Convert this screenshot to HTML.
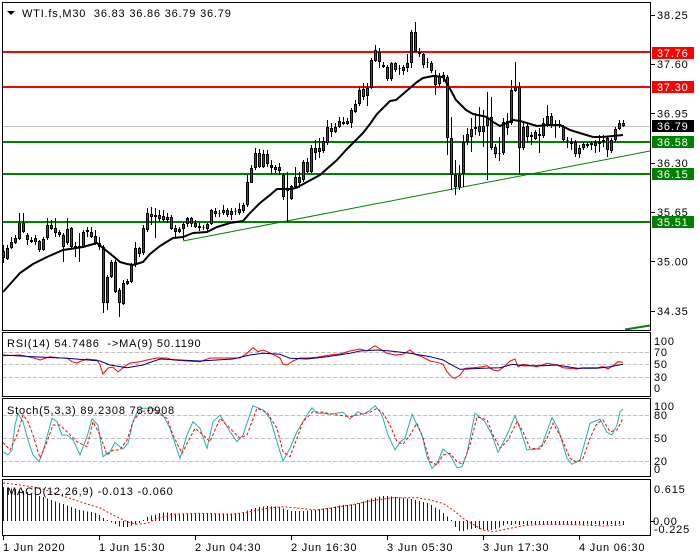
<!DOCTYPE html>
<html><head><meta charset="utf-8"><style>
html,body{margin:0;padding:0;background:#fff;}
svg{display:block;}
text{font-family:"Liberation Sans",sans-serif;font-size:11px;letter-spacing:0.8px;fill:#000;white-space:pre;}
.w{fill:#fff;}
</style></head><body>
<svg width="700" height="560" viewBox="0 0 700 560" xmlns="http://www.w3.org/2000/svg">
<rect width="700" height="560" fill="#fff"/>

<!-- dashed level lines in indicator panels -->
<g stroke="#c0c0c0" stroke-width="1" stroke-dasharray="4 2" shape-rendering="crispEdges">
<line x1="3" y1="352.5" x2="650" y2="352.5"/>
<line x1="3" y1="364.5" x2="650" y2="364.5"/>
<line x1="3" y1="377.5" x2="650" y2="377.5"/>
<line x1="3" y1="415.5" x2="650" y2="415.5"/>
<line x1="3" y1="438.5" x2="650" y2="438.5"/>
<line x1="3" y1="461.5" x2="650" y2="461.5"/>
</g>

<!-- main horizontal levels -->
<line x1="3" y1="126.5" x2="650" y2="126.5" stroke="#c0c0c0" stroke-width="1" shape-rendering="crispEdges"/>
<g stroke-width="2" shape-rendering="crispEdges">
<line x1="3" y1="52" x2="650" y2="52" stroke="#ff0000"/>
<line x1="3" y1="87" x2="650" y2="87" stroke="#ff0000"/>
<line x1="3" y1="142" x2="650" y2="142" stroke="#008000"/>
<line x1="3" y1="174" x2="650" y2="174" stroke="#008000"/>
<line x1="3" y1="222" x2="650" y2="222" stroke="#008000"/>
</g>
<!-- trendline -->
<line x1="183" y1="241" x2="650" y2="151" stroke="#008000" stroke-width="1"/>
<line x1="625" y1="329.5" x2="650" y2="325.5" stroke="#008000" stroke-width="2"/>

<!-- candle wicks -->
<path fill="none" stroke="#000" stroke-width="1" shape-rendering="crispEdges" d="M3.5 245V263M7.5 245V260M11.5 237V249M15.5 235V244M19.5 213V240M23.5 213V233M27.5 233V245M31.5 237V243M35.5 235V245M39.5 240V252M43.5 237V251M47.5 218V240M51.5 220V230M55.5 218V237M59.5 230V237M63.5 233V262M67.5 218V245M71.5 227V248M75.5 242V257M79.5 233V262M83.5 230V248M87.5 227V237M91.5 227V238M95.5 230V245M99.5 237V250M103.5 245V313M107.5 275V310M111.5 260V278M115.5 260V293M119.5 288V317M123.5 280V305M127.5 279V285M131.5 263V283M135.5 242V267M139.5 247V257M143.5 225V255M147.5 208V232M151.5 207V225M155.5 208V238M159.5 210V222M163.5 210V222M167.5 213V223M171.5 215V230M175.5 225V237M179.5 227V233M183.5 222V240M187.5 217V227M191.5 217V227M195.5 220V228M199.5 223V231M203.5 225V230M207.5 223V231M211.5 209V225M215.5 208V217M219.5 210V217M223.5 205V215M227.5 208V217M231.5 208V220M235.5 208V215M239.5 203V215M243.5 203V213M247.5 175V207M251.5 165V183M255.5 148V170M259.5 149V168M263.5 150V168M267.5 150V167M271.5 160V175M275.5 165V173M279.5 163V175M283.5 173V200M287.5 172V222M291.5 185V200M295.5 167V188M299.5 172V188M303.5 160V182M307.5 158V173M311.5 145V173M315.5 140V160M319.5 138V158M323.5 137V153M327.5 120V145M331.5 123V137M335.5 123V133M339.5 117V128M343.5 117V125M347.5 118V125M351.5 108V128M355.5 100V113M359.5 87V106M363.5 83V100M367.5 83V106M371.5 58V89M375.5 45V62M379.5 48V68M383.5 62V68M387.5 65V81M391.5 62V81M395.5 62V72M399.5 65V75M403.5 65V75M407.5 54V72M411.5 30V68M415.5 22V52M419.5 48V57M423.5 53V68M427.5 58V68M431.5 61V73M435.5 70V95M439.5 73V87M443.5 72V82M447.5 75V155M451.5 117V190M455.5 160V195M459.5 165V190M463.5 135V187M467.5 128V145M471.5 118V152M475.5 113V135M479.5 107V136M483.5 110V147M487.5 92V180M491.5 97V150M495.5 144V158M499.5 137V161M503.5 118V155M507.5 113V135M511.5 80V125M515.5 62V92M519.5 82V175M523.5 122V150M527.5 122V143M531.5 132V145M535.5 130V140M539.5 128V153M543.5 118V138M547.5 105V127M551.5 113V128M555.5 120V138M559.5 120V128M563.5 125V142M567.5 137V148M571.5 138V150M575.5 140V157M579.5 145V158M583.5 142V150M587.5 142V148M591.5 141V150M595.5 140V153M599.5 135V152M603.5 135V147M607.5 137V157M611.5 138V153M615.5 127V142M619.5 120V130M623.5 120V127"/>

<!-- green bodies -->
<path fill="#008000" stroke="#000" stroke-width="1" shape-rendering="crispEdges" d="M6.5 248.5h2V258.5h-2zM10.5 242.5h2V247.5h-2zM14.5 238.5h2V242.5h-2zM18.5 223.5h2V238.5h-2zM34.5 238.5h2V241.5h-2zM42.5 239.5h2V249.5h-2zM46.5 225.5h2V237.5h-2zM66.5 229.5h2V242.5h-2zM78.5 246.5h2V247.5h-2zM82.5 232.5h2V246.5h-2zM106.5 277.5h2V302.5h-2zM110.5 262.5h2V276.5h-2zM122.5 283.5h2V303.5h-2zM126.5 281.5h2V283.5h-2zM130.5 265.5h2V281.5h-2zM134.5 248.5h2V264.5h-2zM142.5 228.5h2V252.5h-2zM146.5 213.5h2V229.5h-2zM150.5 214.5h2V216.5h-2zM154.5 215.5h2V216.5h-2zM166.5 217.5h2V219.5h-2zM182.5 224.5h2V228.5h-2zM186.5 218.5h2V223.5h-2zM202.5 227.5h2V227.5h-2zM206.5 224.5h2V228.5h-2zM210.5 210.5h2V223.5h-2zM218.5 213.5h2V213.5h-2zM222.5 210.5h2V212.5h-2zM230.5 211.5h2V214.5h-2zM234.5 211.5h2V211.5h-2zM238.5 209.5h2V212.5h-2zM242.5 205.5h2V210.5h-2zM246.5 182.5h2V204.5h-2zM250.5 168.5h2V182.5h-2zM254.5 153.5h2V167.5h-2zM262.5 154.5h2V166.5h-2zM286.5 189.5h2V190.5h-2zM290.5 186.5h2V198.5h-2zM294.5 177.5h2V186.5h-2zM298.5 177.5h2V182.5h-2zM302.5 162.5h2V179.5h-2zM310.5 148.5h2V171.5h-2zM318.5 148.5h2V151.5h-2zM322.5 141.5h2V150.5h-2zM326.5 127.5h2V142.5h-2zM334.5 127.5h2V131.5h-2zM338.5 121.5h2V126.5h-2zM342.5 122.5h2V123.5h-2zM346.5 121.5h2V123.5h-2zM350.5 110.5h2V122.5h-2zM354.5 104.5h2V111.5h-2zM358.5 90.5h2V103.5h-2zM370.5 60.5h2V87.5h-2zM374.5 50.5h2V60.5h-2zM382.5 65.5h2V66.5h-2zM390.5 63.5h2V78.5h-2zM398.5 68.5h2V68.5h-2zM402.5 67.5h2V70.5h-2zM406.5 63.5h2V67.5h-2zM410.5 32.5h2V62.5h-2zM438.5 76.5h2V83.5h-2zM458.5 175.5h2V186.5h-2zM462.5 142.5h2V173.5h-2zM466.5 134.5h2V141.5h-2zM470.5 129.5h2V136.5h-2zM474.5 127.5h2V128.5h-2zM486.5 118.5h2V125.5h-2zM502.5 122.5h2V152.5h-2zM506.5 121.5h2V127.5h-2zM510.5 90.5h2V122.5h-2zM514.5 87.5h2V90.5h-2zM522.5 127.5h2V147.5h-2zM538.5 134.5h2V135.5h-2zM542.5 123.5h2V135.5h-2zM546.5 116.5h2V123.5h-2zM554.5 124.5h2V125.5h-2zM558.5 124.5h2V125.5h-2zM566.5 140.5h2V140.5h-2zM570.5 142.5h2V143.5h-2zM578.5 148.5h2V153.5h-2zM582.5 144.5h2V147.5h-2zM586.5 144.5h2V145.5h-2zM590.5 143.5h2V144.5h-2zM594.5 142.5h2V145.5h-2zM598.5 142.5h2V143.5h-2zM602.5 140.5h2V141.5h-2zM610.5 140.5h2V150.5h-2zM614.5 129.5h2V139.5h-2zM618.5 123.5h2V128.5h-2z"/>

<!-- red bodies -->
<path fill="#ff0000" stroke="#000" stroke-width="1" shape-rendering="crispEdges" d="M2.5 251.5h2V257.5h-2zM22.5 223.5h2V231.5h-2zM26.5 235.5h2V239.5h-2zM30.5 240.5h2V241.5h-2zM38.5 241.5h2V249.5h-2zM50.5 225.5h2V228.5h-2zM54.5 228.5h2V232.5h-2zM58.5 232.5h2V234.5h-2zM62.5 235.5h2V246.5h-2zM70.5 228.5h2V246.5h-2zM74.5 246.5h2V247.5h-2zM86.5 230.5h2V231.5h-2zM90.5 232.5h2V236.5h-2zM94.5 236.5h2V242.5h-2zM98.5 243.5h2V246.5h-2zM102.5 247.5h2V302.5h-2zM114.5 262.5h2V291.5h-2zM118.5 290.5h2V302.5h-2zM138.5 248.5h2V253.5h-2zM158.5 215.5h2V218.5h-2zM162.5 216.5h2V219.5h-2zM170.5 217.5h2V228.5h-2zM174.5 228.5h2V231.5h-2zM178.5 229.5h2V231.5h-2zM190.5 218.5h2V223.5h-2zM194.5 223.5h2V226.5h-2zM198.5 226.5h2V227.5h-2zM214.5 211.5h2V213.5h-2zM226.5 210.5h2V214.5h-2zM258.5 153.5h2V166.5h-2zM266.5 154.5h2V163.5h-2zM270.5 165.5h2V167.5h-2zM274.5 167.5h2V169.5h-2zM278.5 167.5h2V170.5h-2zM282.5 175.5h2V196.5h-2zM306.5 162.5h2V171.5h-2zM314.5 148.5h2V152.5h-2zM330.5 128.5h2V131.5h-2zM362.5 89.5h2V96.5h-2zM366.5 88.5h2V95.5h-2zM378.5 52.5h2V61.5h-2zM386.5 67.5h2V78.5h-2zM394.5 63.5h2V69.5h-2zM414.5 32.5h2V51.5h-2zM418.5 52.5h2V53.5h-2zM422.5 54.5h2V64.5h-2zM426.5 62.5h2V62.5h-2zM430.5 63.5h2V70.5h-2zM434.5 75.5h2V84.5h-2zM442.5 75.5h2V77.5h-2zM446.5 77.5h2V137.5h-2zM450.5 138.5h2V174.5h-2zM454.5 175.5h2V186.5h-2zM478.5 126.5h2V131.5h-2zM482.5 126.5h2V131.5h-2zM490.5 117.5h2V147.5h-2zM494.5 147.5h2V153.5h-2zM498.5 153.5h2V153.5h-2zM518.5 87.5h2V147.5h-2zM526.5 126.5h2V136.5h-2zM530.5 135.5h2V136.5h-2zM534.5 132.5h2V138.5h-2zM550.5 116.5h2V124.5h-2zM562.5 127.5h2V139.5h-2zM574.5 142.5h2V153.5h-2zM606.5 138.5h2V149.5h-2zM622.5 123.5h2V125.5h-2z"/>

<!-- moving average -->
<polyline fill="none" stroke="#000" stroke-width="2" stroke-linejoin="round" points="3,292 20,273 33,264 47,257 63,250 83,247 97,243 103,248 113,256 120,262 127,264 133,265 143,262 150,254 160,246 173,238 183,237 193,233 207,232 217,227 230,223 243,221 250,213 260,203 270,195 277,189 290,189 296,188 307,182 320,175 329,167 337,160 346,150 356,140 363,133 370,124 377,114 383,108 390,101 396,100 403,94 410,88 417,82 423,78 433,76 443,77 449,87 456,100 466,110 473,114 487,117 493,122 500,126 507,123 513,120 520,121 527,123 537,126 547,125 560,125 570,130 583,134 593,137 603,137 613,136 623,135"/>

<!-- RSI -->
<polyline fill="none" stroke="#ff0000" stroke-width="1" points="3,355.7 20,355 33,357.7 40,360 50,356.7 60,358 67,358 72,361.7 77,363 80,361.5 87,359 97,360 100,365 103,374 108,368 113,367 118,372 123,367.7 130,363 140,361.7 147,360 157,358 167,358 173,360 187,361 200,361.7 210,358 227,358 240,358 247,353.3 253,347.7 258,351.7 263,350 273,354.3 280,358 283,364 287,365 293,361 300,358 307,358 317,357.3 330,355 340,354 350,351 360,349 367,351 375,345.7 380,349 387,353.3 395,355 403,354.3 410,350 415,354.3 422,356.7 430,361 437,362.3 443,364.3 447,371.7 452,377.3 455,378.3 460,375 465,368.3 473,367.7 483,366.7 487,365.7 493,370 498,371 503,367.7 510,361 515,359 518,366.7 523,364.3 537,366.7 547,363.3 557,365 563,367.7 577,369 583,367.7 597,367.7 603,366.7 608,369 613,365.7 618,361.7 623,362.3"/>
<polyline fill="none" stroke="#000080" stroke-width="1" points="3,355 33,356.7 67,358.3 100,361 110,365 127,367.7 143,365 160,359 200,361 233,359 250,355 263,353.3 280,354.3 290,358.3 307,359 327,356.7 350,353.3 360,351 377,350 390,351 410,353.3 430,356.7 443,360 453,365.7 460,369.3 467,369 483,368.3 500,367.7 513,364.3 523,365.7 543,365.7 557,365 577,368.3 597,368.3 610,366.7 623,364.3"/>

<!-- Stochastic -->
<polyline fill="none" stroke="#20b2aa" stroke-width="1" points="3,451.7 8,455 12,450 15,425 18,413.3 23,421.7 28,440 33,455 39,461.7 43,451.7 52,418.3 57,421.7 62,435 67,435 73,440 80,455 87,436.7 92,419 98,425 103,456.7 110,451.7 115,442.3 120,446.7 123,449 128,443.3 133,421.7 138,410 143,408.3 153,408.3 163,415 170,428.3 180,458.3 187,435 193,421.7 200,428.3 207,448.3 213,421.7 220,415 230,431.7 237,441.7 243,435 253,405.7 263,410 270,418.3 280,451.7 283,461 290,448.3 297,431.7 307,415 312,407.7 317,413.3 323,413.3 330,414.3 343,412.3 350,419 358,411.7 363,414.3 368,411.7 375,405.7 380,411.7 383,418.3 388,435 395,450 400,442.3 405,438.3 412,414.3 417,425 422,435 427,456.7 432,468.3 438,461.7 443,449 450,455 457,467.7 462,466.7 467,453.3 475,413.3 485,421.7 492,435 498,452.3 507,435 515,415.7 520,428.3 527,450 537,449 542,445 552,417.7 558,428.3 567,458.3 572,464.3 580,460 590,423.3 600,419 607,432.3 612,435 617,425 620,411.7 623,409"/>
<polyline fill="none" stroke="#ff0000" stroke-width="1" stroke-dasharray="3 2" points="3,442.3 10,450 17,435 23,415 28,421.7 33,435 40,458.3 47,441.7 53,425 60,425 67,431.7 77,441.7 87,446.7 93,421.7 100,435 107,455 113,450 120,450 127,440 133,421.7 140,411.7 153,410 167,418.3 173,435 182,453.3 188,441.7 195,428.3 203,435 210,441.7 220,418.3 230,428.3 240,438.3 247,435 257,408.3 267,412.3 277,428.3 283,451.7 290,456.7 297,438.3 303,421.7 313,411.7 323,412.3 337,415 350,416.7 360,414.3 370,412.3 377,408.3 383,413.3 390,425 397,441.7 403,444.3 410,435 417,423.3 423,438.3 430,461.7 437,465 443,455 450,453.3 457,461.7 463,464.3 470,445 477,416.7 487,420 493,435 500,448.3 508,440 517,421.7 523,431.7 530,448.3 540,449 547,438.3 553,423.3 560,435 570,458.3 577,462.3 583,458.3 590,438.3 597,423.3 603,420 610,431.7 617,430 623,418.3"/>

<!-- MACD histogram -->
<path fill="none" stroke="#0000ff" stroke-width="1" shape-rendering="crispEdges" d="M3.5 521V487M7.5 521V487.7M11.5 521V488.4M15.5 521V489.1M19.5 521V490M23.5 521V491M27.5 521V492.2M31.5 521V493.4M35.5 521V494.6M39.5 521V496M43.5 521V497.2M47.5 521V498.6M51.5 521V500M55.5 521V501.4M59.5 521V503M63.5 521V504.2M67.5 521V505.6M71.5 521V507M75.5 521V508.4M79.5 521V510M83.5 521V510.6M87.5 521V511.3M91.5 521V512M95.5 521V512.8M99.5 521V515M103.5 521V518M107.5 521V520M111.5 521V522.5M115.5 521V524M119.5 521V526.4M123.5 521V526.8M127.5 521V527M131.5 521V525.5M135.5 521V524.4M139.5 521V523M143.5 521V520M147.5 521V517M151.5 521V515.6M155.5 521V514.4M159.5 521V513.2M163.5 521V512.7M167.5 521V512.3M171.5 521V513M175.5 521V513.5M179.5 521V514M183.5 521V513.5M187.5 521V514M191.5 521V513.5M195.5 521V514M199.5 521V514M203.5 521V514M207.5 521V513.5M211.5 521V513M215.5 521V513.5M219.5 521V513.5M223.5 521V513.5M227.5 521V513.5M231.5 521V513.5M235.5 521V513.2M239.5 521V513M243.5 521V512M247.5 521V510.5M251.5 521V508.8M255.5 521V508M259.5 521V507M263.5 521V506.3M267.5 521V506M271.5 521V506.3M275.5 521V506.6M279.5 521V507M283.5 521V508.5M287.5 521V510.2M291.5 521V511M295.5 521V511M299.5 521V511M303.5 521V510.8M307.5 521V510.5M311.5 521V510.1M315.5 521V509.8M319.5 521V509.2M323.5 521V508.6M327.5 521V508.2M331.5 521V507.4M335.5 521V506.4M339.5 521V505.4M343.5 521V505M347.5 521V504.8M351.5 521V504.4M355.5 521V504M359.5 521V502.8M363.5 521V501.6M367.5 521V500M371.5 521V498.7M375.5 521V497.4M379.5 521V496.6M383.5 521V496M387.5 521V496.2M391.5 521V496.6M395.5 521V497M399.5 521V497.4M403.5 521V497.8M407.5 521V498.4M411.5 521V499.2M415.5 521V499.8M419.5 521V500.8M423.5 521V502M427.5 521V503M431.5 521V505M435.5 521V507.4M439.5 521V509.7M443.5 521V513M447.5 521V516.5M451.5 521V520M455.5 521V527M459.5 521V531M463.5 521V531M467.5 521V529.5M471.5 521V528.8M475.5 521V528.2M479.5 521V528.8M483.5 521V529.6M487.5 521V530M491.5 521V530M495.5 521V529M499.5 521V527.5M503.5 521V525.5M507.5 521V524M511.5 521V525M515.5 521V524M519.5 521V525M523.5 521V524M527.5 521V525M531.5 521V524M535.5 521V525M539.5 521V524M543.5 521V525M547.5 521V524M551.5 521V525M555.5 521V524M559.5 521V525M563.5 521V524M567.5 521V525M571.5 521V524M575.5 521V525M579.5 521V524M583.5 521V525M587.5 521V524M591.5 521V525M595.5 521V524M599.5 521V525M603.5 521V524M607.5 521V525M611.5 521V524M615.5 521V525M619.5 521V524M623.5 521V525"/>
<polyline fill="none" stroke="#ff0000" stroke-width="1" stroke-dasharray="2 2" points="3,483 20,485 40,488 60,495 80,501.7 100,508 113,515 127,521.7 137,524.3 147,523.3 157,518.3 173,514.3 200,513.3 233,514.3 250,511.7 267,508.3 283,506.7 300,508.3 317,510 333,507.7 350,505 370,501 393,497.7 417,497.7 430,500 443,503.3 453,510 463,518.3 473,524.3 483,530 493,531.7 507,529 523,525.7 543,524.3 563,524.3 583,525 603,526 623,525"/>

<!-- panel borders -->
<g fill="none" stroke="#000" stroke-width="1" shape-rendering="crispEdges">
<rect x="2.5" y="2.5" width="648" height="328"/>
<rect x="2.5" y="332.5" width="648" height="64"/>
<rect x="2.5" y="398.5" width="648" height="78"/>
<rect x="2.5" y="479.5" width="648" height="56"/>
</g>

<!-- axis ticks -->
<path fill="none" stroke="#000" stroke-width="1" shape-rendering="crispEdges" d="M651 15.5H655M651 64.5H655M651 113.5H655M651 163.5H655M651 212.5H655M651 261.5H655M651 311.5H655M651 521.5H655M3.5 536V540M99.5 536V540M195.5 536V540M291.5 536V540M387.5 536V540M483.5 536V540M579.5 536V540"/>

<!-- price axis labels -->
<text x="657" y="19">38.25</text>
<text x="657" y="68">37.60</text>
<text x="657" y="117.5">36.95</text>
<text x="657" y="167">36.30</text>
<text x="657" y="216">35.65</text>
<text x="657" y="265.5">35.00</text>
<text x="657" y="315">34.35</text>

<!-- level label boxes -->
<rect x="652" y="47" width="42" height="12" fill="#ff0000"/>
<text class="w" x="657" y="57">37.76</text>
<rect x="652" y="81" width="42" height="12" fill="#ff0000"/>
<text class="w" x="657" y="91">37.30</text>
<rect x="652" y="120" width="42" height="12" fill="#000"/>
<text class="w" x="657" y="130">36.79</text>
<rect x="652" y="136" width="42" height="12" fill="#008000"/>
<text class="w" x="657" y="146">36.58</text>
<rect x="652" y="168" width="42" height="12" fill="#008000"/>
<text class="w" x="657" y="178">36.15</text>
<rect x="652" y="216" width="42" height="12" fill="#008000"/>
<text class="w" x="657" y="226">35.51</text>

<!-- RSI axis -->
<text x="654" y="345">100</text>
<text x="654" y="356">70</text>
<text x="654" y="368">50</text>
<text x="654" y="381">30</text>
<text x="654" y="392">0</text>
<!-- Stoch axis -->
<text x="654" y="410">100</text>
<text x="654" y="419">80</text>
<text x="654" y="442">50</text>
<text x="654" y="465">20</text>
<text x="654" y="473">0</text>
<!-- MACD axis -->
<text x="654" y="493">0.615</text>
<text x="653" y="525">0.00</text>
<text x="654" y="533">-0.225</text>

<!-- time axis -->
<text x="3" y="551">1 Jun 2020</text>
<text x="99" y="551">1 Jun 15:30</text>
<text x="195" y="551">2 Jun 04:30</text>
<text x="291" y="551">2 Jun 16:30</text>
<text x="387" y="551">3 Jun 05:30</text>
<text x="483" y="551">3 Jun 17:30</text>
<text x="579" y="551">4 Jun 06:30</text>

<!-- titles -->
<polygon points="7,11 15,11 11,15" fill="#000"/>
<text x="22" y="17">WTI.fs,M30  36.83 36.86 36.79 36.79</text>
<text x="7" y="347">RSI(14) 54.7486  -&gt;MA(9) 50.1190</text>
<text x="7" y="414">Stoch(5,3,3) 89.2308 78.0908</text>
<text x="7" y="495">MACD(12,26,9) -0.013 -0.060</text>
</svg>
</body></html>
